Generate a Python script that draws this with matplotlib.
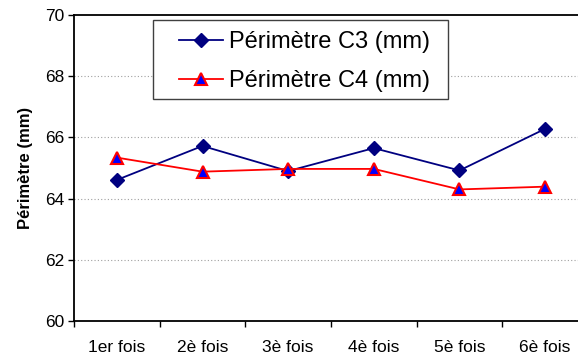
import matplotlib
matplotlib.use("Agg")
import matplotlib.pyplot as plt
from matplotlib.ticker import FixedLocator, NullFormatter
from matplotlib.patches import Rectangle

plt.rcParams['font.family'] = ['Liberation Sans', 'DejaVu Sans']

categories = ["1er fois", "2è fois", "3è fois", "4è fois", "5è fois", "6è fois"]
c3 = [64.61, 65.72, 64.90, 65.65, 64.92, 66.28]
c4 = [65.34, 64.88, 64.97, 64.97, 64.30, 64.39]
yticks = [60, 62, 64, 66, 68, 70]

W, H = 578, 355
fig = plt.figure(figsize=(W/100, H/100), dpi=100)
ax = fig.add_axes([74/W, 1-321/H, (588-74)/W, (321-15)/H])

x = list(range(len(categories)))
ax.plot(x, c3, color='#000080', lw=1.3, marker='D', ms=7, mfc='#000080', mec='#000080',
        label='Périmètre C3 (mm)', zorder=3)
ax.plot(x, c4, color='#ff0000', lw=1.3, marker='^', ms=9, mfc='#0000ff', mec='#ff0000', mew=1.5,
        label='Périmètre C4 (mm)', zorder=3)

ax.set_xlim(-0.5, len(categories) - 0.5)
ax.set_ylim(60, 70)
ax.set_yticks(yticks)
ax.set_xticks(x)
ax.set_xticklabels(categories, fontsize=12.5)
ax.xaxis.set_minor_locator(FixedLocator([i - 0.5 for i in range(len(categories) + 1)]))
ax.xaxis.set_minor_formatter(NullFormatter())
ax.tick_params(axis='x', which='major', length=0, pad=14)
ax.tick_params(axis='x', which='minor', length=4, width=1, direction='out')
ax.tick_params(axis='y', labelsize=12.5, length=4, width=1, pad=3)

for v in yticks[1:-1]:
    ax.axhline(v, color='#a0a0a0', lw=0.8, ls=(0, (1, 2)), zorder=1)

for s in ['left', 'bottom', 'top']:
    ax.spines[s].set_linewidth(1.3)
    ax.spines[s].set_color('black')
ax.spines['right'].set_visible(False)

ax.set_ylabel('Périmètre (mm)', fontsize=12, fontweight='bold', labelpad=9)

# legend frame drawn separately
fig.patches.append(Rectangle((153/W, 1-99/H), (448-153)/W, (99-20)/H, transform=fig.transFigure,
                             fill=True, facecolor='white', edgecolor='#404040', lw=1.0, zorder=5))
leg = fig.legend(*ax.get_legend_handles_labels(), loc='upper left',
                 bbox_to_anchor=(179/W, 1-31/H), bbox_transform=fig.transFigure,
                 fontsize=17, frameon=False, borderpad=0,
                 handlelength=1.85, handletextpad=0.25, labelspacing=0.72, borderaxespad=0)
leg.set_zorder(6)

fig.savefig('out.png', dpi=100)
